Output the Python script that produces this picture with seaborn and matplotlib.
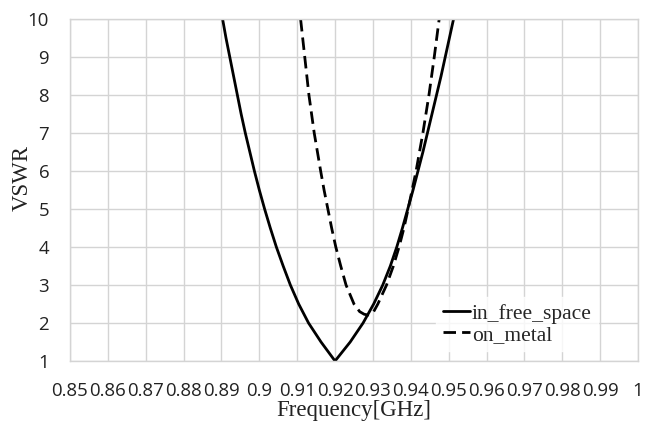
import numpy as np
import pandas as pd
import seaborn as sns
import matplotlib.pyplot as plt

# VSWR curves (frequency in GHz)
free_freq = [0.8903, 0.8912, 0.8922, 0.8932, 0.8942, 0.8952, 0.8963, 0.8975, 0.8987,
             0.9000, 0.9014, 0.9029, 0.9045, 0.9063, 0.9082, 0.9104, 0.9130, 0.9163,
             0.9200, 0.9240, 0.9274, 0.9302, 0.9326, 0.9346, 0.9363, 0.9378, 0.9392,
             0.9406, 0.9419, 0.9432, 0.9444, 0.9456, 0.9468, 0.9480, 0.9491, 0.9502,
             0.9513]
free_vswr = [10, 9.5, 9, 8.5, 8, 7.5, 7, 6.5, 6,
             5.5, 5, 4.5, 4, 3.5, 3, 2.5, 2, 1.5,
             1.0, 1.5, 2, 2.5, 3, 3.5, 4, 4.5, 5,
             5.5, 6, 6.5, 7, 7.5, 8, 8.5, 9, 9.5,
             10]

metal_freq = [0.9109, 0.9120, 0.9131, 0.9145, 0.9162, 0.9171, 0.9181, 0.9191, 0.9202,
              0.9215, 0.9229, 0.9250, 0.9265, 0.9277, 0.9287, 0.9296, 0.9302, 0.9313,
              0.9336, 0.9354, 0.9369, 0.9382, 0.9393, 0.9414, 0.9432, 0.9448, 0.9462,
              0.9475]
metal_vswr = [10, 9, 8, 7, 6, 5.5, 5, 4.5, 4,
              3.5, 3, 2.5, 2.3, 2.23, 2.21, 2.24, 2.3, 2.5,
              3, 3.5, 4, 4.5, 5, 6, 7, 8, 9,
              10]

x_ticks = [0.85, 0.86, 0.87, 0.88, 0.89, 0.9, 0.91, 0.92, 0.93, 0.94, 0.95,
           0.96, 0.97, 0.98, 0.99, 1.0]
x_labels = ['0.85', '0.86', '0.87', '0.88', '0.89', '0.9', '0.91', '0.92', '0.93',
            '0.94', '0.95', '0.96', '0.97', '0.98', '0.99', '1']
y_ticks = [1, 2, 3, 4, 5, 6, 7, 8, 9, 10]

free = pd.DataFrame({'f': free_freq, 'vswr': free_vswr})
metal = pd.DataFrame({'f': metal_freq, 'vswr': metal_vswr})

sns.set_theme(style='white')
serif = 'Liberation Serif'
tick_font = 'Open Sans'

fig = plt.figure(figsize=(6.51, 4.21), dpi=100)
ax = fig.add_axes([0.1075, 0.1425, 0.8725, 0.8124])

sns.lineplot(data=free, x='f', y='vswr', ax=ax, color='black', lw=2,
             sort=False, estimator=None, label='in_free_space')
sns.lineplot(data=metal, x='f', y='vswr', ax=ax, color='black', lw=2,
             ls=(0, (4.5, 2.2)), sort=False, estimator=None, label='on_metal')

ax.set_xlim(0.85, 1.0)
ax.set_ylim(1, 10)
ax.set_xticks(x_ticks)
ax.set_xticklabels(x_labels, fontfamily=tick_font, fontsize=13.4)
ax.set_yticks(y_ticks)
ax.set_yticklabels([str(v) for v in y_ticks], fontfamily=tick_font, fontsize=13.4)
ax.tick_params(axis='both', length=0, colors='#222222')
ax.tick_params(axis='y', pad=15)
ax.tick_params(axis='x', pad=15)

ax.grid(True, color='#d4d4d4', lw=1)
for s in ax.spines.values():
    s.set_color('#d4d4d4')
    s.set_linewidth(1)

ax.set_xlabel('Frequency[GHz]', fontfamily=serif, fontsize=16.5, color='#222222')
ax.set_ylabel('VSWR', fontfamily=serif, fontsize=16.5, color='#222222')
ax.xaxis.set_label_coords(0.5, -0.114)
ax.yaxis.set_label_coords(-0.066, 0.535)

leg = ax.legend(loc='lower right', bbox_to_anchor=(0.93, 0.028), frameon=True,
                prop={'family': serif, 'size': 15.5}, handlelength=1.25,
                handletextpad=0.1, labelspacing=0.05, borderpad=0.3,
                borderaxespad=0, fancybox=False)
leg.get_frame().set_facecolor('white')
leg.get_frame().set_edgecolor('white')

fig.savefig('out.png', dpi=100)
